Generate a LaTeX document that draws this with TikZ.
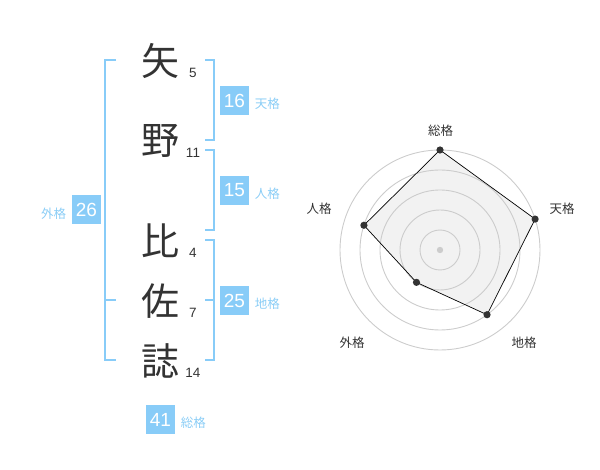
\documentclass[tikz,border=0pt]{standalone}
\usepackage{fontspec}
\setmainfont{Liberation Sans}
\newfontfamily\jp{Noto Sans CJK JP}
\usetikzlibrary{positioning}
\definecolor{kakublue}{HTML}{88CCF8}
\definecolor{kakutext}{HTML}{8ACDF6}
\definecolor{ink}{HTML}{333333}
\definecolor{ringgray}{HTML}{CCCCCC}
\definecolor{areagray}{HTML}{F2F2F2}

\begin{document}
\begin{tikzpicture}[x=1pt,y=-1pt,
    kanji/.style={text=ink,font=\jp\fontsize{38}{38}\selectfont,inner sep=0pt},
    strokes/.style={text=ink,font=\fontsize{13.5}{13.5}\selectfont,inner sep=0pt},
    score/.style={fill=kakublue,text=white,font=\fontsize{19}{19}\selectfont,minimum size=29pt,inner sep=0pt},
    kaku/.style={text=kakutext,font=\jp\fontsize{12.5}{12.5}\selectfont,inner sep=0pt,yshift=-3.5pt},
    bracket/.style={draw=kakublue,line width=2pt},
    ring/.style={draw=ringgray,line width=0.9pt},
    axis/.style={text=ink,font=\jp\fontsize{12.5}{12.5}\selectfont,inner sep=0pt}]
    \useasboundingbox (0,0) rectangle (600,470);
    \foreach[count=\i] \c/\n/\y in {矢/5/61, 野/11/141, 比/4/241, 佐/7/301, 誌/14/361} {
        \node[kanji] (c\i) at (160,\y) {\c};
        \node[strokes] (n\i) at (193,\y+12) {\n};
    }
    \draw[bracket] (116,60) -| (105,360) -- (116,360);
    \draw[bracket] (105,300) -- (116,300);
    \draw[bracket] (205,60) -| (214,140) -- (205,140);
    \draw[bracket] (205,150) -| (214,230) -- (205,230);
    \draw[bracket] (205,240) -| (214,360) -- (205,360);
    \draw[bracket] (205,300) -- (214,300);
    \foreach[count=\i] \s/\k/\x/\y/\side in {16/天格/234.5/100.5/right, 15/人格/234.5/190.5/right, 25/地格/234.5/300.5/right, 26/外格/86.5/210/left, 41/総格/160.5/419.5/right} {
        \node[score] (s\i) at (\x,\y) {\s};
        \node[kaku,\side=5.5pt of s\i] (k\i) {\k};
    }
    \begin{scope}[shift={(440,250)}]
        \foreach \k/\a/\v in {sou/-90/100, ten/-18/100, chi/54/80, gai/126/40, jin/198/80}
            \coordinate (\k) at (\a:\v);
        \fill[areagray] (sou) -- (ten) -- (chi) -- (gai) -- (jin) -- cycle;
        \foreach \r in {20,40,...,100}
            \draw[ring] (0,0) circle (\r);
        \fill[ringgray] (0,0) circle (3.2);
        \draw[line width=0.7pt] (sou) -- (ten) -- (chi) -- (gai) -- (jin) -- cycle;
        \foreach \k in {sou,ten,chi,gai,jin}
            \fill[ink] (\k) circle (3.6);
    \end{scope}
    \foreach \k/\x/\y in {総格/440.5/130.5, 天格/562/208.5, 地格/524/342.5, 外格/352/342.5, 人格/319/208.5}
        \node[axis] at (\x,\y) {\k};
\end{tikzpicture}
\end{document}
